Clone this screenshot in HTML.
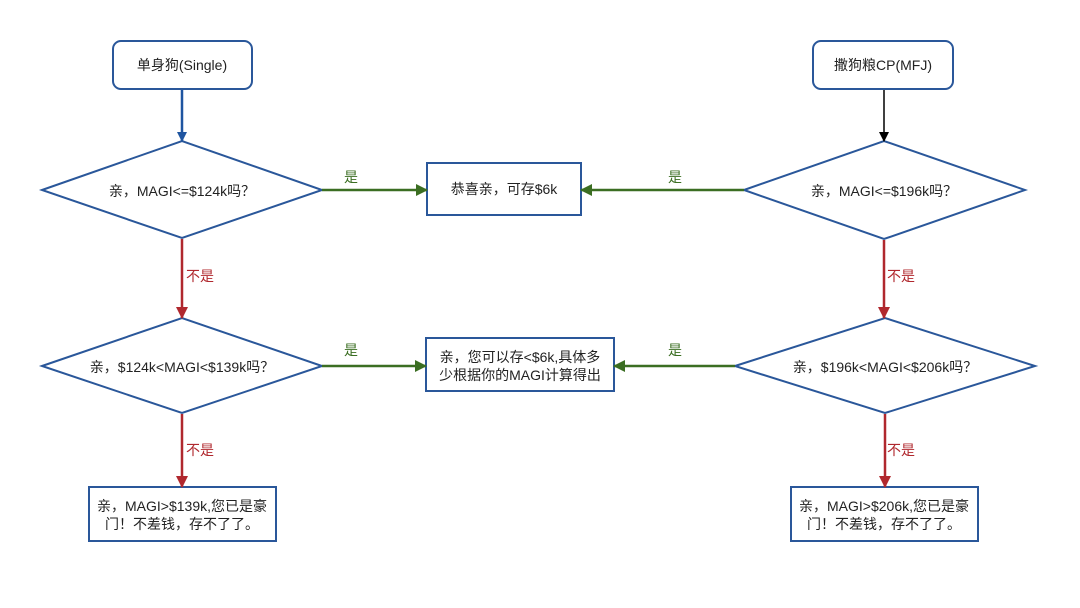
<!DOCTYPE html>
<html><head><meta charset="utf-8"><style>
body{margin:0;background:#fff;}
svg text{font-family:"Liberation Sans","Noto Sans CJK SC",sans-serif;}
</style></head><body>
<svg width="1080" height="603" viewBox="0 0 1080 603" xmlns="http://www.w3.org/2000/svg">
<defs>
<marker id="ab" markerWidth="10" markerHeight="10" refX="9" refY="5" orient="auto" markerUnits="userSpaceOnUse"><path d="M0,0 L10,5 L0,10 Z" fill="#1f55a0"/></marker>
<marker id="ak" markerWidth="10" markerHeight="10" refX="9" refY="5" orient="auto" markerUnits="userSpaceOnUse"><path d="M0,0 L10,5 L0,10 Z" fill="#000"/></marker>
<marker id="ar" markerWidth="12" markerHeight="12" refX="11" refY="6" orient="auto" markerUnits="userSpaceOnUse"><path d="M0,0 L12,6 L0,12 Z" fill="#b0282e"/></marker>
<marker id="ag" markerWidth="12" markerHeight="12" refX="11" refY="6" orient="auto" markerUnits="userSpaceOnUse"><path d="M0,0 L12,6 L0,12 Z" fill="#3b6e22"/></marker>
</defs>
<g fill="#fff" stroke="#2a579a" stroke-width="2">
<rect x="113" y="41" width="139" height="48" rx="8"/>
<rect x="813" y="41" width="140" height="48" rx="8"/>
<polygon points="42,190 182,141 322,190 182,238"/>
<polygon points="744,190 884,141 1025,190 884,239"/>
<polygon points="42,366 182,318 322,366 182,413"/>
<polygon points="735,366 885,318 1035,366 885,413"/>
<rect x="427" y="163" width="154" height="52"/>
<rect x="426" y="338" width="188" height="53"/>
<rect x="89" y="487" width="187" height="54"/>
<rect x="791" y="487" width="187" height="54"/>
</g>
<line x1="182" y1="90" x2="182" y2="141" stroke="#1f55a0" stroke-width="2.5" marker-end="url(#ab)"/>
<line x1="884" y1="90" x2="884" y2="141" stroke="#000" stroke-width="1.5" marker-end="url(#ak)"/>
<g stroke="#b0282e" stroke-width="2.5">
<line x1="182" y1="239" x2="182" y2="318" marker-end="url(#ar)"/>
<line x1="182" y1="414" x2="182" y2="487" marker-end="url(#ar)"/>
<line x1="884" y1="240" x2="884" y2="318" marker-end="url(#ar)"/>
<line x1="885" y1="414" x2="885" y2="487" marker-end="url(#ar)"/>
</g>
<g stroke="#3b6e22" stroke-width="2.5">
<line x1="322" y1="190" x2="427" y2="190" marker-end="url(#ag)"/>
<line x1="744" y1="190" x2="581" y2="190" marker-end="url(#ag)"/>
<line x1="322" y1="366" x2="426" y2="366" marker-end="url(#ag)"/>
<line x1="735" y1="366" x2="614" y2="366" marker-end="url(#ag)"/>
</g>
<g font-size="14" fill="#222" text-anchor="middle">
<text x="182" y="70">单身狗(Single)</text>
<text x="883" y="70">撒狗粮CP(MFJ)</text>
<text x="182" y="196">亲，MAGI&lt;=$124k吗？</text>
<text x="884" y="196">亲，MAGI&lt;=$196k吗？</text>
<text x="182" y="372">亲，$124k&lt;MAGI&lt;$139k吗？</text>
<text x="885" y="372">亲，$196k&lt;MAGI&lt;$206k吗？</text>
<text x="504" y="194">恭喜亲，可存$6k</text>
<text x="520" y="362">亲，您可以存&lt;$6k,具体多</text>
<text x="520" y="380">少根据你的MAGI计算得出</text>
<text x="182" y="511">亲，MAGI&gt;$139k,您已是豪</text>
<text x="182" y="529">门！不差钱，存不了了。</text>
<text x="884" y="511">亲，MAGI&gt;$206k,您已是豪</text>
<text x="884" y="529">门！不差钱，存不了了。</text>
</g>
<g font-size="14" text-anchor="middle">
<text x="351" y="182" fill="#3b6e22">是</text>
<text x="675" y="182" fill="#3b6e22">是</text>
<text x="351" y="355" fill="#3b6e22">是</text>
<text x="675" y="355" fill="#3b6e22">是</text>
<text x="200" y="281" fill="#b0282e">不是</text>
<text x="200" y="455" fill="#b0282e">不是</text>
<text x="901" y="281" fill="#b0282e">不是</text>
<text x="901" y="455" fill="#b0282e">不是</text>
</g>
</svg>
</body></html>
